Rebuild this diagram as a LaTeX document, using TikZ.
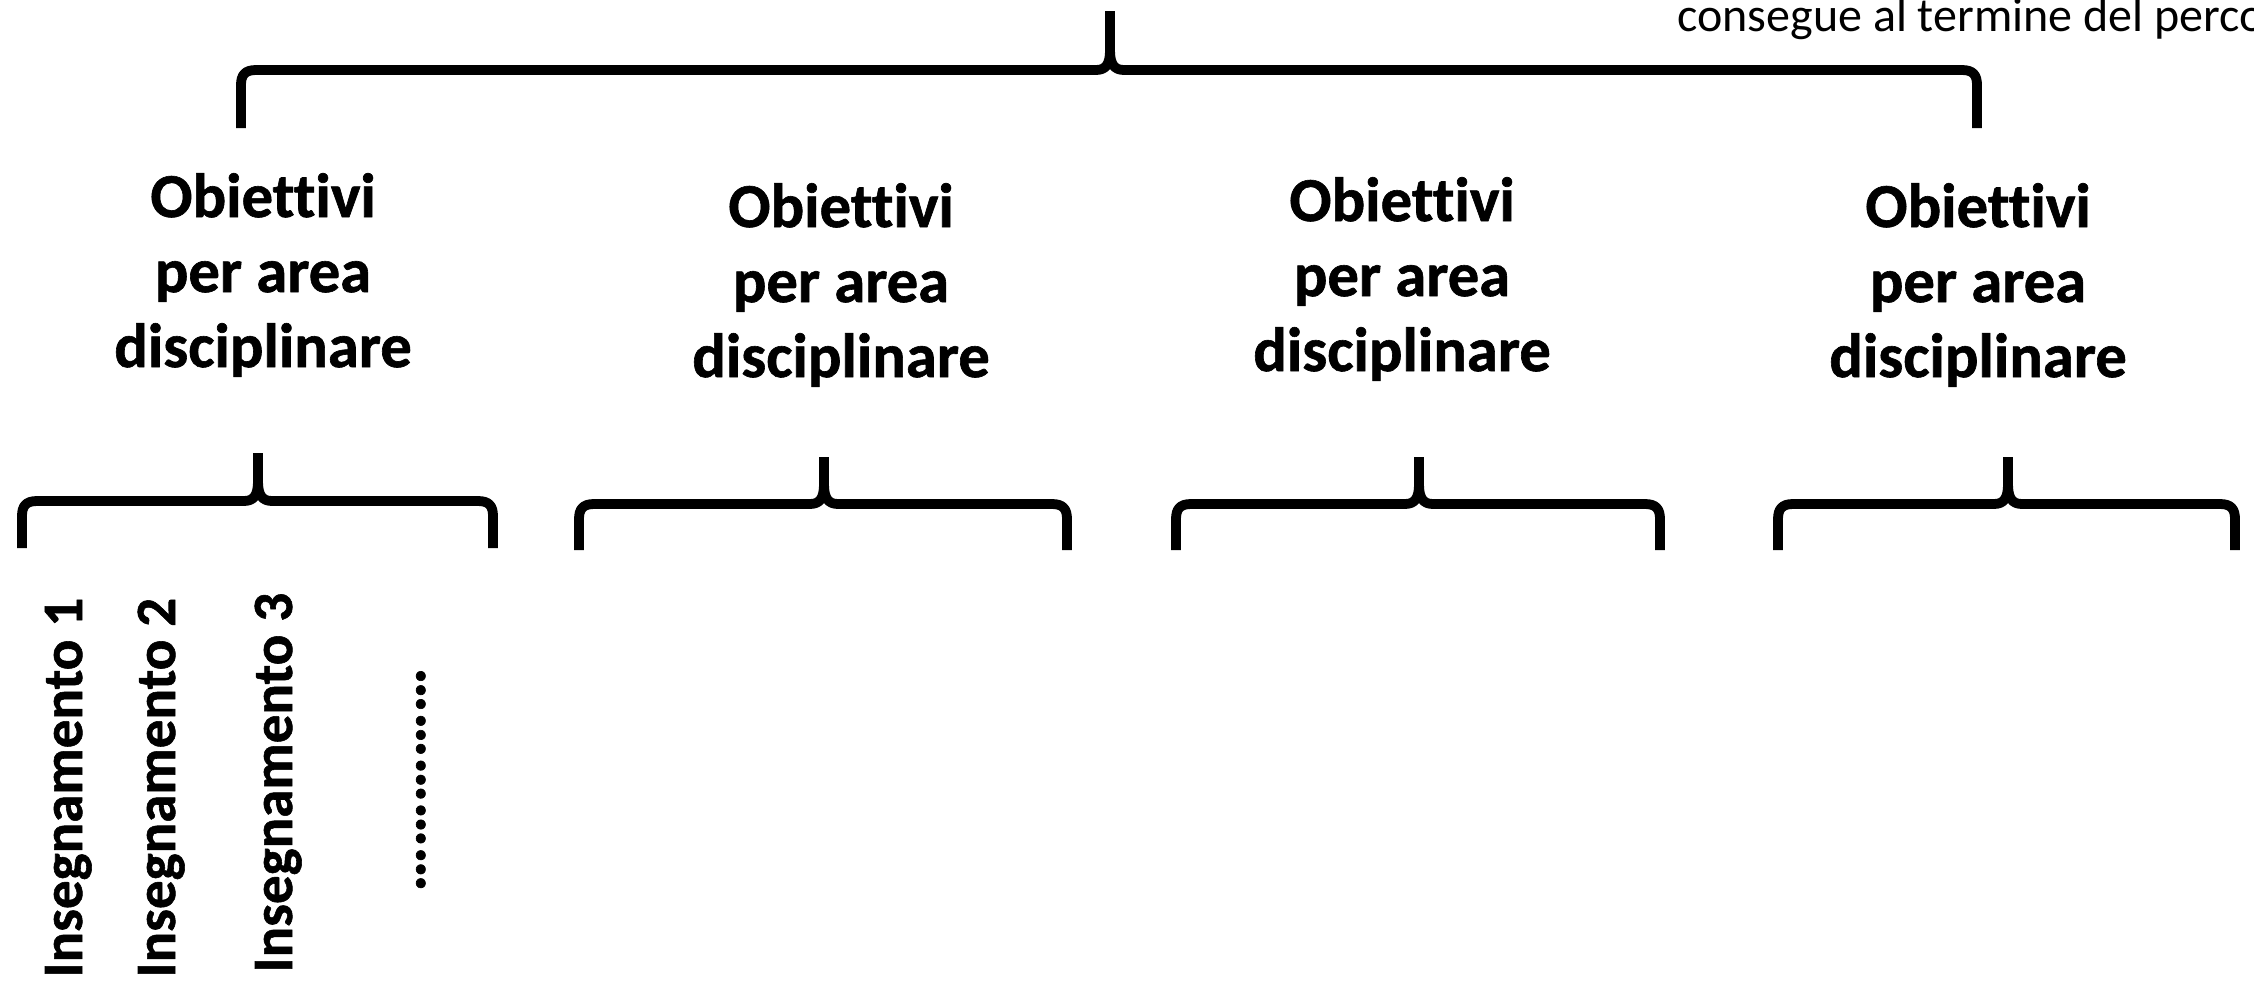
\documentclass[tikz,border=0pt]{standalone}
\usepackage{fontspec}
\setmainfont{Carlito}[Ligatures={NoCommon}, BoldFeatures={FakeBold=1}]
\newcommand\drawbrace[6]{% L R T tiptop bar bottom
 \draw[bracestyle] (#1,#6) -- (#1,#5+15) .. controls (#1,#5+5) and (#1+4,#5) .. (#1+15,#5) -- (#3-14,#5) .. controls (#3-4,#5) and (#3,#5-6) .. (#3,#5-20) -- (#3,#4);
 \draw[bracestyle] (#2,#6) -- (#2,#5+15) .. controls (#2,#5+5) and (#2-4,#5) .. (#2-15,#5) -- (#3+14,#5) .. controls (#3+4,#5) and (#3,#5-6) .. (#3,#5-20) -- (#3,#4);
}
\begin{document}
\begin{tikzpicture}[x=0.5pt,y=-0.5pt,
  bracestyle/.style={line width=4.9pt, line cap=butt, line join=round},
  area/.style={font=\bfseries\fontsize{31.3}{37.5}\selectfont, align=center, inner sep=0pt},
  ins/.style={font=\bfseries\fontsize{28.5}{34}\selectfont, rotate=90, anchor=base west, inner sep=0pt}]
\useasboundingbox (0,0) rectangle (2254,987);
\clip (0,0) rectangle (2254,987);
\node[font=\fontsize{24}{29}\selectfont, anchor=base west, inner sep=0pt] (top) at (1677,31) {consegue al termine del perco};
\drawbrace{241}{1977}{1110}{11}{70}{128}
\node[area] (a1) at (263,275) {Obiettivi\\per area\\disciplinare};
\node[area] (a2) at (841,285) {Obiettivi\\per area\\disciplinare};
\node[area] (a3) at (1402,279) {Obiettivi\\per area\\disciplinare};
\node[area] (a4) at (1978,285) {Obiettivi\\per area\\disciplinare};
\drawbrace{22}{493}{258}{453}{501}{548}
\drawbrace{579}{1067}{824}{457}{504}{550}
\drawbrace{1176}{1660}{1419}{457}{504}{550}
\drawbrace{1778}{2235}{2008}{457}{504}{550}
\node[ins] (i1) at (82,978) {Insegnamento 1};
\node[ins] (i2) at (175,978) {Insegnamento 2};
\node[ins] (i3) at (292,973) {Insegnamento 3};
\node[ins, font=\bfseries\fontsize{31.5}{36}\selectfont] (dots) at (425,892) {……………};
\end{tikzpicture}
\end{document}
